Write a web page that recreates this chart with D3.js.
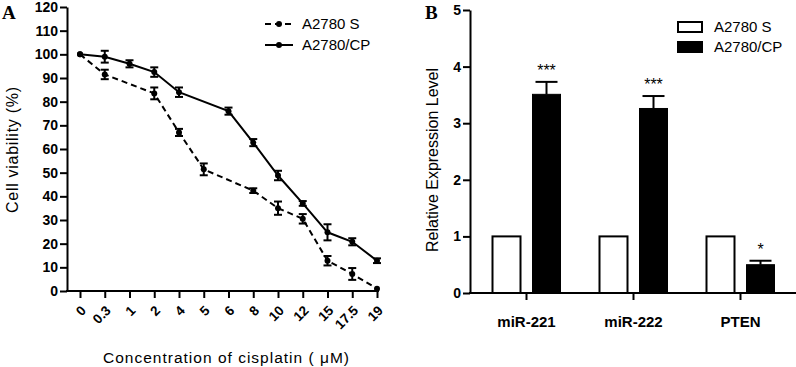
<!DOCTYPE html>
<html lang="en">
<head>
  <meta charset="UTF-8">
  <title>Cisplatin viability and expression</title>
  <script src="https://d3js.org/d3.v7.min.js"></script>
  <style>
    body { margin: 0; background: #fff; }
    text { font-family: "Liberation Sans", Arial, sans-serif; fill: #000; }
  </style>
</head>
<body>
<script>
  // ---- data, panel A (cell viability %) ----
  const doses = ['0', '0.3', '1', '2', '4', '5', '6', '8', '10', '12', '15', '17.5', '19'];
  // null = no point measured at that dose
  const sensMean = [100, 91.5, null, 83.5, 67, 51.4, null, 42.4, 35, 30.5, 12.8, 7.2, 1];
  const sensErr  = [0, 2, null, 2.5, 1.5, 2.5, null, 1, 2.8, 2, 2, 2.5, 0];
  const resMean  = [100, 99, 96, 92.5, 84, null, 76, 62.7, 48.8, 37, 24.8, 20.8, 12.8];
  const resErr   = [0, 2.5, 1.5, 2, 2, null, 1.5, 1.5, 2, 1, 3.4, 1.5, 1];
  const viabTicks = d3.range(0, 121, 10);

  // ---- data, panel B (relative expression) ----
  const genes = ['miR-221', 'miR-222', 'PTEN'];
  const sensExpr = [1, 1, 1];
  const resExpr = [3.51, 3.26, 0.5];
  const resExprErr = [0.22, 0.22, 0.07];
  const stars = ['***', '***', '*'];
  const exprTicks = [0, 1, 2, 3, 4, 5];
  const lines = ['A2780 S', 'A2780/CP'];

  const svg = d3.select('body').append('svg')
    .attr('width', 796)
    .attr('height', 367);

  // ================= Panel A =================
  const xA = d3.scalePoint().domain(doses).range([80, 377]);
  const yA = d3.scaleLinear().domain([0, 120]).range([291, 7]);

  const gA = svg.append('g');

  // y axis
  gA.append('g')
    .attr('transform', 'translate(67,0)')
    .call(d3.axisLeft(yA).tickValues(viabTicks).tickSize(7).tickSizeOuter(0).tickPadding(2))
    .call(g => g.selectAll('path, line').attr('stroke', '#000').attr('stroke-width', 2))
    .call(g => g.selectAll('text').attr('font-size', 14).attr('font-weight', 'bold')
      .attr('font-family', '"Liberation Sans", Arial, sans-serif'));

  // x axis
  gA.append('line').attr('x1', 66).attr('x2', 379).attr('y1', 291).attr('y2', 291)
    .attr('stroke', '#000').attr('stroke-width', 2);
  gA.append('g')
    .attr('transform', 'translate(0,291)')
    .call(d3.axisBottom(xA).tickSize(7))
    .call(g => g.select('.domain').remove())
    .call(g => g.selectAll('line').attr('stroke', '#000').attr('stroke-width', 2))
    .call(g => g.selectAll('text')
      .attr('font-size', 13.5).attr('font-weight', 'bold')
      .attr('font-family', '"Liberation Sans", Arial, sans-serif')
      .attr('text-anchor', 'end')
      .attr('x', 0).attr('y', 0)
      .attr('dy', '0.35em')
      .attr('transform', 'translate(3,17) rotate(-45)'));

  // axis titles
  gA.append('text')
    .attr('transform', 'translate(18,150) rotate(-90)')
    .attr('text-anchor', 'middle')
    .attr('font-size', 16)
    .attr('textLength', 126)
    .text('Cell viability (%)');
  gA.append('text')
    .attr('x', 226).attr('y', 363)
    .attr('text-anchor', 'middle')
    .attr('font-size', 15.5)
    .attr('textLength', 246)
    .text('Concentration of cisplatin ( \u03bcM)');

  // series
  const seriesA = [
    { name: lines[0], mean: sensMean, err: sensErr, dash: '6,4' },
    { name: lines[1], mean: resMean, err: resErr, dash: null }
  ];

  seriesA.forEach(s => {
    const pts = doses.map((d, i) => ({ d, v: s.mean[i], e: s.err[i] })).filter(p => p.v !== null);
    gA.append('path')
      .datum(pts)
      .attr('fill', 'none')
      .attr('stroke', '#000')
      .attr('stroke-width', 2)
      .attr('stroke-dasharray', s.dash)
      .attr('d', d3.line().x(p => xA(p.d)).y(p => yA(p.v)));

    const eb = gA.append('g').selectAll('g').data(pts.filter(p => p.e > 0)).join('g');
    eb.append('line')
      .attr('x1', p => xA(p.d)).attr('x2', p => xA(p.d))
      .attr('y1', p => yA(p.v - p.e)).attr('y2', p => yA(p.v + p.e))
      .attr('stroke', '#000').attr('stroke-width', 2);
    [-1, 1].forEach(sign => {
      eb.append('line')
        .attr('x1', p => xA(p.d) - 4).attr('x2', p => xA(p.d) + 4)
        .attr('y1', p => yA(p.v + sign * p.e)).attr('y2', p => yA(p.v + sign * p.e))
        .attr('stroke', '#000').attr('stroke-width', 2);
    });

    gA.append('g').selectAll('circle').data(pts).join('circle')
      .attr('cx', p => xA(p.d)).attr('cy', p => yA(p.v))
      .attr('r', 3).attr('fill', '#000');
  });

  // legend A
  const legA = gA.append('g');
  seriesA.forEach((s, i) => {
    const y = 24 + i * 21;
    legA.append('line').attr('x1', 265).attr('x2', 293).attr('y1', y).attr('y2', y)
      .attr('stroke', '#000').attr('stroke-width', 2).attr('stroke-dasharray', s.dash);
    legA.append('circle').attr('cx', 279).attr('cy', y).attr('r', 3).attr('fill', '#000');
    legA.append('text').attr('x', 302).attr('y', y).attr('dy', '0.36em')
      .attr('font-size', 15).text(s.name);
  });

  gA.append('text').attr('x', 2).attr('y', 19)
    .style('font-family', '"Liberation Serif", "Times New Roman", serif')
    .attr('font-size', 19).attr('font-weight', 'bold').text('A');

  // ================= Panel B =================
  const yB = d3.scaleLinear().domain([0, 5]).range([293, 10]);
  const xB = d3.scaleBand().domain(genes).range([473, 794]);
  const xInner = d3.scaleBand().domain(lines).range([-34, 34]).paddingInner(0.3);

  const gB = svg.append('g');

  gB.append('g')
    .attr('transform', 'translate(470,0)')
    .call(d3.axisLeft(yB).tickValues(exprTicks).tickFormat(d3.format('d')).tickSize(7).tickSizeOuter(0).tickPadding(2))
    .call(g => g.selectAll('path, line').attr('stroke', '#000').attr('stroke-width', 2))
    .call(g => g.selectAll('text').attr('font-size', 14).attr('font-weight', 'bold')
      .attr('font-family', '"Liberation Sans", Arial, sans-serif'));

  gB.append('line').attr('x1', 469).attr('x2', 796).attr('y1', 293).attr('y2', 293)
    .attr('stroke', '#000').attr('stroke-width', 2);
  gB.append('g')
    .attr('transform', 'translate(0,293)')
    .call(d3.axisBottom(xB).tickSize(7).tickPadding(16))
    .call(g => g.select('.domain').remove())
    .call(g => g.selectAll('line').attr('stroke', '#000').attr('stroke-width', 2))
    .call(g => g.selectAll('text').attr('font-size', 15).attr('font-weight', 'bold')
      .attr('font-family', '"Liberation Sans", Arial, sans-serif'));

  gB.append('text')
    .attr('transform', 'translate(438,160) rotate(-90)')
    .attr('text-anchor', 'middle')
    .attr('font-size', 16)
    .attr('textLength', 184)
    .text('Relative Expression Level');

  const cx = g => xB(g) + xB.bandwidth() / 2;

  // white bars
  gB.append('g').selectAll('rect').data(genes).join('rect')
    .attr('x', (g) => cx(g) + xInner(lines[0]))
    .attr('width', xInner.bandwidth())
    .attr('y', (g, i) => yB(sensExpr[i]))
    .attr('height', (g, i) => yB(0) - yB(sensExpr[i]))
    .attr('fill', '#fff').attr('stroke', '#000').attr('stroke-width', 2);

  // black bars + error bars
  const cpX = g => cx(g) + xInner(lines[1]) + xInner.bandwidth() / 2;
  gB.append('g').selectAll('line').data(genes).join('line')
    .attr('x1', cpX).attr('x2', cpX)
    .attr('y1', (g, i) => yB(resExpr[i]))
    .attr('y2', (g, i) => yB(resExpr[i] + resExprErr[i]))
    .attr('stroke', '#000').attr('stroke-width', 2);
  gB.append('g').selectAll('line').data(genes).join('line')
    .attr('x1', g => cpX(g) - 11).attr('x2', g => cpX(g) + 11)
    .attr('y1', (g, i) => yB(resExpr[i] + resExprErr[i]))
    .attr('y2', (g, i) => yB(resExpr[i] + resExprErr[i]))
    .attr('stroke', '#000').attr('stroke-width', 2);
  gB.append('g').selectAll('rect').data(genes).join('rect')
    .attr('x', (g) => cx(g) + xInner(lines[1]))
    .attr('width', xInner.bandwidth())
    .attr('y', (g, i) => yB(resExpr[i]))
    .attr('height', (g, i) => yB(0) - yB(resExpr[i]))
    .attr('fill', '#000').attr('stroke', '#000').attr('stroke-width', 1);

  gB.append('g').selectAll('text').data(genes).join('text')
    .attr('x', cpX)
    .attr('y', (g, i) => yB(resExpr[i] + resExprErr[i]) - 6)
    .attr('text-anchor', 'middle')
    .attr('font-size', 16)
    .attr('fill', '#333')
    .text((g, i) => stars[i]);

  // legend B
  const legB = gB.append('g');
  lines.forEach((name, i) => {
    const y = 22 + i * 20;
    legB.append('rect').attr('x', 678).attr('y', y).attr('width', 24).attr('height', 10)
      .attr('fill', i === 0 ? '#fff' : '#000').attr('stroke', '#000').attr('stroke-width', 2);
    legB.append('text').attr('x', 714).attr('y', y + 5).attr('dy', '0.36em')
      .attr('font-size', 15).text(name);
  });

  gB.append('text').attr('x', 425).attr('y', 19)
    .style('font-family', '"Liberation Serif", "Times New Roman", serif')
    .attr('font-size', 19).attr('font-weight', 'bold').text('B');
</script>
</body>
</html>
